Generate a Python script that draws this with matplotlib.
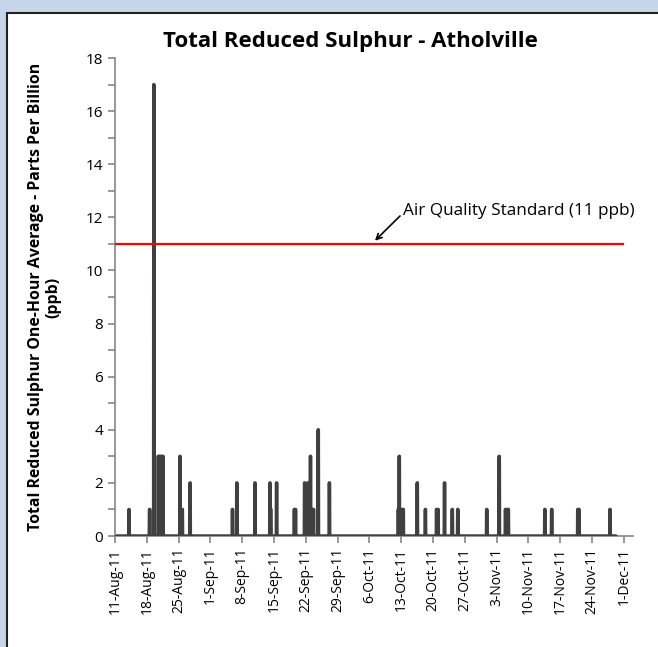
import matplotlib
matplotlib.use("Agg")
import matplotlib.pyplot as plt
from matplotlib.patches import Rectangle
import numpy as np
import pandas as pd

# ---- data ----
series_start = "2011-08-11 08:00"
series_end = "2011-11-29 06:00"
spike_start = [
    "2011-08-14 02:00", "2011-08-18 14:00", "2011-08-19 13:00",
    "2011-08-20 12:00", "2011-08-20 20:00", "2011-08-21 04:00", "2011-08-21 12:00",
    "2011-08-25 07:00", "2011-08-25 10:00", "2011-08-25 18:00", "2011-08-27 12:00",
    "2011-09-05 20:00", "2011-09-06 19:00", "2011-09-10 19:00",
    "2011-09-14 02:00", "2011-09-14 04:00", "2011-09-15 13:00",
    "2011-09-19 11:00", "2011-09-19 17:00", "2011-09-21 17:00", "2011-09-22 10:00",
    "2011-09-23 00:00", "2011-09-23 04:00", "2011-09-23 10:00", "2011-09-23 16:00",
    "2011-09-24 17:00", "2011-09-27 04:00",
    "2011-10-12 08:00", "2011-10-12 13:00", "2011-10-12 20:00", "2011-10-13 04:00",
    "2011-10-13 10:00", "2011-10-16 12:00", "2011-10-18 07:00",
    "2011-10-20 18:00", "2011-10-21 02:00", "2011-10-22 12:00", "2011-10-24 05:00",
    "2011-10-25 10:00", "2011-10-31 19:00", "2011-11-03 13:00",
    "2011-11-04 22:00", "2011-11-05 06:00", "2011-11-05 13:00",
    "2011-11-13 14:00", "2011-11-15 02:00", "2011-11-20 20:00", "2011-11-21 02:00",
    "2011-11-27 22:00",
]
spike_hours = [1, 3, 1,
               3, 3, 3, 3,
               2, 3, 3, 2,
               2, 2, 2,
               2, 5, 2,
               2, 2, 2, 2,
               2, 2, 2, 2,
               2, 2,
               2, 2, 2, 2,
               2, 2, 2,
               2, 2, 2, 2,
               2, 2, 2,
               2, 2, 2,
               2, 2, 2, 2,
               2]
spike_value = [1, 1, 17,
               3, 3, 3, 3,
               3, 1, 1, 2,
               1, 2, 2,
               2, 1, 2,
               1, 1, 2, 2,
               3, 1, 1, 1,
               4, 2,
               1, 3, 1, 1,
               1, 2, 1,
               1, 1, 2, 1,
               1, 1, 3,
               1, 1, 1,
               1, 1, 1, 1,
               1]
standard_value = 11
tick_dates = pd.date_range("2011-08-11", "2011-12-01", freq="7D")
title = "Total Reduced Sulphur - Atholville"
ylabel = "Total Reduced Sulphur One-Hour Average - Parts Per Billion\n(ppb)"
annot = "Air Quality Standard (11 ppb)"

# ---- build hourly series ----
idx = pd.date_range(series_start, series_end, freq="h")
vals = pd.Series(0.0, index=idx)
for s, h, v in zip(spike_start, spike_hours, spike_value):
    t0 = pd.Timestamp(s)
    vals[t0:t0 + pd.Timedelta(hours=h - 1)] = v

plt.rcParams['font.family'] = ['Open Sans', 'DejaVu Sans']

W, H = 658, 647
fig = plt.figure(figsize=(W / 100, H / 100), dpi=100, facecolor="#c6d5ea")
panel = Rectangle((7 / W, -0.1), 1.2, 1 - 13 / H + 0.1,
                  transform=fig.transFigure, facecolor="white",
                  edgecolor="#222222", linewidth=1.5, zorder=-10)
fig.patches.append(panel)

x0, x1 = pd.Timestamp("2011-08-11"), pd.Timestamp("2011-12-03")
left = 115 / W
right = 633 / W
bottom = 1 - 536 / H
top = 1 - 58 / H
ax = fig.add_axes([left, bottom, right - left, top - bottom])
ax.set_zorder(5)
ax.set_facecolor("none")

ax.plot(vals.index, vals.values, color="#404040", linewidth=2.5,
        solid_joinstyle="round", solid_capstyle="round", zorder=3)
ax.axhline(standard_value, xmin=0, xmax=(623 - 115) / (633 - 115),
           color="#ff0000", linewidth=1.6, zorder=4)

ax.set_xlim(x0, x1)
ax.set_ylim(0, 18)
ax.set_xticks(tick_dates)
ax.set_xticklabels([f"{d.day}-{d.strftime('%b')}-{d.strftime('%y')}" for d in tick_dates],
                   rotation=90, fontsize=10)
ax.set_yticks(np.arange(0, 19, 2))
ax.set_yticks(np.arange(1, 18, 2), minor=True)
ax.tick_params(axis="y", labelsize=11, colors="#868686", labelcolor="black",
               length=5, width=1.2, direction="out", which="both")
ax.tick_params(axis="x", colors="#868686", labelcolor="black",
               length=5, width=1.2, direction="out")
for s in ["top", "right"]:
    ax.spines[s].set_visible(False)
for s in ["left", "bottom"]:
    ax.spines[s].set_color("#868686")
    ax.spines[s].set_linewidth(1.2)

fig.text(350 / W, 1 - 42 / H, title, ha="center", va="center",
         fontsize=16, fontweight="bold", zorder=6)
fig.text(45 / W, 1 - 297 / H, ylabel, ha="center", va="center", rotation=90,
         fontsize=11.4, fontweight="bold", linespacing=1.1, zorder=6)

fig.text(403 / W, 1 - 211 / H, annot, ha="left", va="center", fontsize=12.3, zorder=6)
ax.annotate("", xy=(pd.Timestamp("2011-10-07 05:00"), standard_value + 0.12),
            xytext=(400 / W, 1 - 216 / H), textcoords="figure fraction",
            arrowprops=dict(arrowstyle="->", color="black", lw=1.2,
                            shrinkA=0, shrinkB=0))

fig.savefig("out.png", dpi=100, facecolor=fig.get_facecolor())
